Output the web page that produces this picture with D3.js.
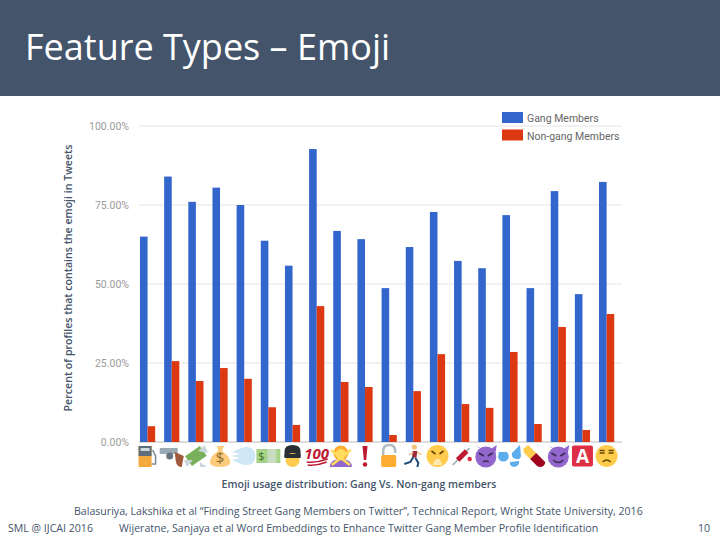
<!DOCTYPE html>
<html><head><meta charset="utf-8">
<script src="https://cdnjs.cloudflare.com/ajax/libs/d3/7.8.5/d3.min.js"></script>
<style>html,body{margin:0;background:#fff}svg{display:block}</style></head>
<body><svg id="c" width="720" height="540"></svg>
<script>
const categories=["fuelpump","gun","moneywings","moneybag","dash","dollar","guard","hundred","nogood","exclaim","unlock","runner","triumph","syringe","imp","sweat","pill","smiling","a","unamused"];
const gangValues=[65,84,76,80.5,75,63.7,55.8,92.7,66.8,64.2,48.7,61.7,72.8,57.3,55,71.8,48.7,79.4,46.8,82.3];
const nonGangValues=[5,25.6,19.3,23.4,20,11,5.4,43,19,17.4,2.2,16.1,27.8,12,10.8,28.5,5.7,36.4,3.8,40.5];
const yTicks=[0,25,50,75,100];
const legendLabels=["Gang Members","Non-gang Members"];
const colors=["#3366cc","#dc3912"];
const F="'Open Sans',sans-serif";
const svg=d3.select("#c");
svg.append("rect").attr("width",720).attr("height",96).attr("fill","#44546a");
svg.append("text").attr("x",25).attr("y",60).attr("font-family",F).attr("font-size",36).attr("fill","#fff").text("Feature Types – Emoji");
const y=d3.scaleLinear().domain([0,100]).range([442,126]);
const x=d3.scaleBand().domain(categories).range([135.5,618.7]).paddingInner(0).paddingOuter(0);
const g=svg.append("g");
g.selectAll("line").data(yTicks).join("line").attr("x1",139).attr("x2",622)
 .attr("y1",d=>y(d)).attr("y2",d=>y(d)).attr("stroke",d=>d==0?"#bbb":"#e4e4e4").attr("stroke-width",1);
svg.append("g").selectAll("text").data(yTicks).join("text").attr("x",129).attr("y",d=>y(d)+4).attr("text-anchor","end")
 .attr("font-family","Roboto,sans-serif").attr("font-size",10.5).attr("fill","#9a9a9a").text(d=>d.toFixed(2)+"%");
const bw=7.6;
[gangValues,nonGangValues].forEach((vals,s)=>{
 svg.append("g").selectAll("rect").data(vals).join("rect")
  .attr("x",(d,i)=>x(categories[i])+x.bandwidth()/2-bw+s*bw).attr("width",bw)
  .attr("y",d=>y(d)).attr("height",d=>y(0)-y(d)).attr("fill",colors[s]);
});
// legend
const lg=svg.append("g");
legendLabels.forEach((l,i)=>{
 lg.append("rect").attr("x",502).attr("y",112+i*17.5).attr("width",21).attr("height",11).attr("fill",colors[i]);
 lg.append("text").attr("x",527).attr("y",122+i*17.5).attr("font-family","Roboto,sans-serif").attr("font-size",10.5).attr("fill","#666").text(l);
});
svg.append("text").attr("transform","translate(72,278) rotate(-90)").attr("text-anchor","middle")
 .attr("font-family",F).attr("font-size",10.6).attr("font-weight",600).attr("fill","#44546a").text("Percent of profiles that contains the emoji in Tweets");
// emoji icons, drawn from simple shapes
const icon={
 fuelpump:g=>{g.append("rect").attr("x",-9).attr("y",-10).attr("width",13).attr("height",21).attr("fill","#f4a93c");g.append("rect").attr("x",-9).attr("y",-10).attr("width",13).attr("height",10).attr("fill","#5f6e7c");g.append("rect").attr("x",-7).attr("y",-8).attr("width",9).attr("height",3).attr("fill","#cfd8dd");g.append("path").attr("d","M5 -6 L8 0 V8 H4").attr("fill","none").attr("stroke","#7a8a94").attr("stroke-width",1.5);},
 gun:g=>{g.append("path").attr("d","M-12 -8H6V-2H-12Z").attr("fill","#99aab5");g.append("path").attr("d","M3 -4L12 0L10 11Q5 11 4 5Z").attr("fill","#a0573a");g.append("circle").attr("cx",-2).attr("cy",0).attr("r",3.5).attr("fill","#66757f");},
 moneywings:g=>{g.append("rect").attr("x",-9).attr("y",-6).attr("width",18).attr("height",12).attr("transform","rotate(-35)").attr("fill","#78b159");g.append("path").attr("d","M2 -5L9 -11L12 -3Z").attr("fill","#ccd6dd");g.append("path").attr("d","M-3 4L-9 11L-12 4Z M4 6L11 11L4 11Z").attr("fill","#ccd6dd");},
 moneybag:g=>{g.append("path").attr("d","M-3 -10H4L2 -5Q11 1 10 7Q9 11 0 11Q-9 11 -10 7Q-11 1 -2 -5Z").attr("fill","#fdcb7c");g.append("text").attr("y",7).attr("text-anchor","middle").attr("font-family",F).attr("font-size",15).attr("fill","#8a6b2c").text("$");},
 dash:g=>{g.append("path").attr("d","M-12 -4Q-2 -9 2 -9Q11 -9 11 0Q11 9 2 9Q-3 9 -12 4L-4 2L-13 0L-4 -2Z").attr("fill","#cfe6f5");},
 dollar:g=>{g.append("rect").attr("x",-12).attr("y",-7).attr("width",24).attr("height",14).attr("fill","#a6d388");g.append("rect").attr("x",-1).attr("y",-7).attr("width",9).attr("height",14).attr("fill","#c8dcc0");g.append("text").attr("x",-7).attr("y",4).attr("text-anchor","middle").attr("font-family",F).attr("font-size",11).attr("fill","#3e721d").text("$");},
 guard:g=>{g.append("path").attr("d","M-8 1V-5Q-8 -11 0 -11Q8 -11 8 -5V1Z").attr("fill","#292f33");g.append("circle").attr("cy",4).attr("r",7).attr("fill","#ffcc4d");g.append("rect").attr("x",-8).attr("y",-2).attr("width",16).attr("height",4).attr("fill","#292f33");},
 hundred:g=>{g.append("text").attr("y",3).attr("text-anchor","middle").attr("font-family",F).attr("font-style","italic").attr("font-weight",700).attr("font-size",15).attr("fill","#be1931").text("100");g.append("path").attr("d","M-10 6Q0 7 11 3M-9 9Q0 10 10 6").attr("fill","none").attr("stroke","#be1931").attr("stroke-width",1.5);},
 nogood:g=>{g.append("path").attr("d","M-11 11Q-11 3 0 3Q11 3 11 11Z").attr("fill","#9266cc");g.append("circle").attr("cy",-3).attr("r",7.5).attr("fill","#ffac33");g.append("circle").attr("cy",-2).attr("r",5).attr("fill","#ffdc5d");g.append("path").attr("d","M-10 -6L9 9M10 -6L-9 9").attr("stroke","#ffdc5d").attr("stroke-width",2.5);},
 exclaim:g=>{g.append("path").attr("d","M-2.5 -10H2.5L1.2 4H-1.2Z").attr("fill","#be1931");g.append("circle").attr("cy",8.5).attr("r",2.2).attr("fill","#be1931");},
 unlock:g=>{g.append("path").attr("d","M-6 -1V-5Q-6 -11 0 -11Q6 -11 6 -5V-3").attr("fill","none").attr("stroke","#b0bcc3").attr("stroke-width",2.5);g.append("rect").attr("x",-8).attr("y",-1).attr("width",15).attr("height",12).attr("rx",1.5).attr("fill","#ffac33");},
 runner:g=>{g.append("circle").attr("cx",1).attr("cy",-9).attr("r",2.6).attr("fill","#f4c27a");g.append("path").attr("d","M-1 -5L4 -5L3 2L-1 1Z").attr("fill","#a0243a");g.append("path").attr("d","M0 1L-3 6L-9 8M2 2L5 7L4 11").attr("fill","none").attr("stroke","#1c4d7a").attr("stroke-width",2);g.append("path").attr("d","M0 -4L-4 -1M4 -4L8 -1").attr("stroke","#f4c27a").attr("stroke-width",1.5);},
 triumph:g=>{g.append("circle").attr("r",11).attr("fill","#ffcc4d");g.append("path").attr("d","M-6 -5L-2 -2M6 -5L2 -2").attr("stroke","#664500").attr("stroke-width",1.6);g.append("path").attr("d","M-5 9L-2 3H2L5 9Z").attr("fill","#ffe8b0");},
 syringe:g=>{g.append("path").attr("d","M-9 9L8 -8").attr("stroke","#99aab5").attr("stroke-width",1.5);g.append("path").attr("d","M-4 4L5 -5").attr("stroke","#be1931").attr("stroke-width",5);g.append("circle").attr("cx",8).attr("cy",3).attr("r",2.2).attr("fill","#dd2e44");},
 imp:g=>{g.append("path").attr("d","M-11 -11L-5 -7H5L11 -11L9 0Z").attr("fill","#9266cc");g.append("circle").attr("cy",1).attr("r",10.5).attr("fill","#9266cc");g.append("path").attr("d","M-7 -3L-2 0M7 -3L2 0").attr("stroke","#3b2a55").attr("stroke-width",1.8);g.append("path").attr("d","M-3 6Q0 4 3 6").attr("fill","none").attr("stroke","#3b2a55").attr("stroke-width",1.5);},
 sweat:g=>{g.append("path").attr("d","M10 -11L11 0Q10 4 6 3Q1 2 2 -3Z").attr("fill","#5dadec");g.append("path").attr("d","M-11 -4L-3 -4Q1 2 -4 5Q-10 7 -12 1Z").attr("fill","#5dadec");g.append("path").attr("d","M4 11Q-1 10 0 6L9 5Q10 10 4 11Z").attr("fill","#5dadec");},
 pill:g=>{g.append("path").attr("d","M-11 -7L-6 -11L2 -3L-4 3L-10 -3Z").attr("fill","#ffcc4d");g.append("path").attr("d","M2 -3L11 6Q11 10 7 11Q4 11 3 10L-4 3Z").attr("fill","#a0041e");},
 smiling:g=>{g.append("path").attr("d","M-11 -11L-5 -7H5L11 -11L9 0Z").attr("fill","#9266cc");g.append("circle").attr("cy",1).attr("r",10.5).attr("fill","#9266cc");g.append("path").attr("d","M-7 -3L-2 0M7 -3L2 0").attr("stroke","#3b2a55").attr("stroke-width",1.8);g.append("path").attr("d","M-5 4Q0 9 5 4").attr("fill","none").attr("stroke","#3b2a55").attr("stroke-width",1.5);},
 a:g=>{g.append("rect").attr("x",-10.5).attr("y",-10.5).attr("width",21).attr("height",21).attr("rx",2).attr("fill","#dd2e44");g.append("text").attr("y",7).attr("text-anchor","middle").attr("font-family",F).attr("font-weight",700).attr("font-size",19).attr("fill","#fff").text("A");},
 unamused:g=>{g.append("circle").attr("r",11).attr("fill","#ffcc4d");g.append("path").attr("d","M-7 -3H-2M2 -3H7M-7 -5.5H-2M2 -5.5H7").attr("stroke","#664500").attr("stroke-width",1.4);g.append("path").attr("d","M-4 6Q0 2 4 6").attr("fill","none").attr("stroke","#664500").attr("stroke-width",1.5);}
};
categories.forEach(c=>{const gi=svg.append("g").attr("transform",`translate(${x(c)+x.bandwidth()/2},456)`);icon[c](gi);});
svg.append("text").attr("x",359).attr("y",488).attr("text-anchor","middle").attr("font-family",F).attr("font-size",10.5).attr("font-weight",600).attr("fill","#44546a").text("Emoji usage distribution: Gang Vs. Non-gang members");
const T=(s,xx,yy,a)=>svg.append("text").attr("x",xx).attr("y",yy).attr("text-anchor",a||"start").attr("font-family",F).attr("font-size",10.6).attr("fill","#44546a").text(s);
T("Balasuriya, Lakshika et al  “Finding Street Gang Members on Twitter”, Technical Report, Wright State University, 2016",74,515);
T("SML @ IJCAI 2016",8,532);
T("Wijeratne, Sanjaya et al  Word Embeddings to Enhance Twitter Gang Member Profile Identification",119,532);
T("10",710,532,"end");
</script></body></html>
